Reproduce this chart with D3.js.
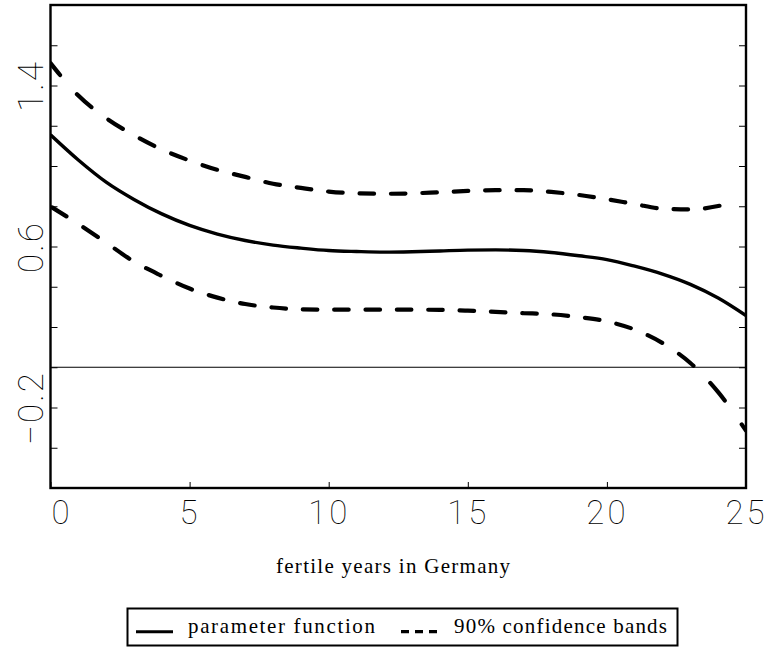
<!DOCTYPE html>
<html>
<head>
<meta charset="utf-8">
<script src="https://cdn.jsdelivr.net/npm/d3@7/dist/d3.min.js"></script>
<style>
  html, body { margin: 0; padding: 0; background: #fff; }
  svg { display: block; }
</style>
</head>
<body>
<svg id="chart" width="773" height="649"></svg>
<script>
// ---------------- data ----------------
const ages = [0,1,2,3,4,5,6,7,8,9,10,11,12,13,14,15,16,17,18,19,20,21,22,23,24,25];
const paramFn = [1.155,1.030,0.920,0.834,0.762,0.705,0.662,0.630,0.607,0.592,0.580,0.575,0.572,
                 0.574,0.578,0.582,0.583,0.580,0.570,0.554,0.535,0.502,0.463,0.412,0.344,0.257];
const upperAges = [0,1,2,3,4,5,6,7,8,9,10,11,12,13,14,15,16,17,18,19,20,21,22,23,24,24.6];
const upperBand = [1.511,1.350,1.238,1.153,1.082,1.027,0.981,0.946,0.912,0.891,0.873,0.864,0.862,
                   0.864,0.870,0.876,0.880,0.880,0.871,0.856,0.835,0.811,0.788,0.784,0.801,0.822];
const lowerBand = [0.799,0.712,0.619,0.525,0.454,0.391,0.346,0.314,0.297,0.288,0.286,0.286,0.286,
                   0.286,0.285,0.281,0.275,0.269,0.263,0.249,0.228,0.187,0.120,0.021,-0.124,-0.315];
const xTicks = [0,5,10,15,20,25];
const yTicks = [-0.4,-0.2,0,0.2,0.4,0.6,0.8,1.0,1.2,1.4,1.6];
const yLabels = [-0.2,0.6,1.4];
const xTitle = "fertile years in Germany";
const legendItems = ["parameter function","90% confidence bands"];

// ---------------- layout ----------------
const svg = d3.select("#chart");
const L = 50.5, R = 746, T = 5, B = 488;
const x = d3.scaleLinear().domain([0,25]).range([L,R]);
const y = d3.scaleLinear().domain([-0.6,1.8]).range([B,T]);
const numFont = "Roboto, Inter, 'DejaVu Sans', sans-serif";
const numWeight = 100;
const serif = "'Liberation Serif', 'DejaVu Serif', serif";

svg.append("defs").append("clipPath").attr("id","plotclip")
  .append("rect").attr("x",L).attr("y",T).attr("width",R-L).attr("height",B-T);

// zero line
svg.append("line").attr("x1",L).attr("x2",R).attr("y1",y(0)).attr("y2",y(0))
  .attr("stroke","#000").attr("stroke-width",1);

// axes
const fmt = d3.format(".1f");
const gL = svg.append("g").attr("transform",`translate(${L},0)`)
  .call(d3.axisLeft(y).tickValues(yTicks).tickSize(-7).tickPadding(0)
        .tickFormat(d => yLabels.some(v => Math.abs(v-d)<1e-9) ? fmt(d) : ""));
gL.selectAll(".tick text")
  .attr("x",0).attr("dy",0).attr("text-anchor","middle")
  .attr("transform","translate(-8,0) rotate(-90)")
  .attr("font-family",numFont).attr("font-weight",numWeight).attr("font-size",35)
  .attr("letter-spacing",2).attr("fill","#000");

const gR = svg.append("g").attr("transform",`translate(${R},0)`)
  .call(d3.axisRight(y).tickValues(yTicks).tickSize(-7).tickFormat(""));

const gB = svg.append("g").attr("transform",`translate(0,${B})`)
  .call(d3.axisBottom(x).tickValues(xTicks).tickSize(-6).tickFormat(d3.format("d")));
gB.selectAll(".tick text")
  .attr("y",36).attr("dy",0)
  .attr("dx", d => d===0 ? 11 : 0)
  .attr("font-family",numFont).attr("font-weight",numWeight).attr("font-size",33)
  .attr("letter-spacing",3).attr("fill","#000");

[gL,gR,gB].forEach(g => {
  g.select(".domain").remove();
  g.selectAll(".tick line").attr("stroke","#000").attr("stroke-width",1);
});

// frame
svg.append("rect").attr("x",L).attr("y",T).attr("width",R-L).attr("height",B-T)
  .attr("fill","none").attr("stroke","#000").attr("stroke-width",2.4);

// curves
const plot = svg.append("g").attr("clip-path","url(#plotclip)");
const line = d3.line().x(d => x(d[0])).y(d => y(d[1])).curve(d3.curveMonotoneX);

plot.append("path").datum(d3.zip(ages,paramFn)).attr("d",line)
  .attr("fill","none").attr("stroke","#000").attr("stroke-width",3.4);

// dashes laid out along x (as in the reference)
function xDash(pathSel, phase, period, dashLen) {
  const node = pathSel.node();
  const total = node.getTotalLength();
  const N = 3000, lens = [], xs = [];
  for (let i = 0; i <= N; i++) {
    const l = total*i/N; lens.push(l); xs.push(node.getPointAtLength(l).x);
  }
  const lenAt = xv => {
    if (xv <= xs[0]) return 0;
    if (xv >= xs[N]) return total;
    let i = d3.bisectLeft(xs, xv);
    const t = (xv - xs[i-1])/(xs[i]-xs[i-1] || 1);
    return lens[i-1] + t*(lens[i]-lens[i-1]);
  };
  const segs = [];
  for (let s = phase; s < xs[N]; s += period) {
    const a = lenAt(s), b = lenAt(s+dashLen);
    if (b - a > 0.5) segs.push([a,b]);
  }
  const arr = [];
  segs.forEach((sg,i) => {
    arr.push(sg[1]-sg[0]);
    arr.push(i < segs.length-1 ? segs[i+1][0]-sg[1] : total*3);
  });
  pathSel.attr("stroke-dasharray", arr.map(v => v.toFixed(2)).join(","))
         .attr("stroke-dashoffset", -segs[0][0]);
}

const up = plot.append("path").datum(d3.zip(upperAges,upperBand)).attr("d",line)
  .attr("fill","none").attr("stroke","#000").attr("stroke-width",4.2).attr("stroke-linecap","round");
xDash(up, 45.5, 31.4, 14.5);

const lo = plot.append("path").datum(d3.zip(ages,lowerBand)).attr("d",line)
  .attr("fill","none").attr("stroke","#000").attr("stroke-width",4.2).attr("stroke-linecap","round");
xDash(lo, 52, 31.35, 14.5);

// x title
svg.append("text").attr("x",276).attr("y",573).text(xTitle)
  .attr("font-family",serif).attr("font-size",21)
  .attr("textLength",234).attr("lengthAdjust","spacing").attr("fill","#000");

// legend
svg.append("rect").attr("x",127.5).attr("y",608.5).attr("width",550).attr("height",37)
  .attr("fill","none").attr("stroke","#000").attr("stroke-width",2);
svg.append("line").attr("x1",136).attr("x2",173).attr("y1",631.7).attr("y2",631.7)
  .attr("stroke","#000").attr("stroke-width",3);
svg.append("text").attr("x",188).attr("y",633).text(legendItems[0])
  .attr("font-family",serif).attr("font-size",21)
  .attr("textLength",187).attr("lengthAdjust","spacing").attr("fill","#000");
svg.append("line").attr("x1",401).attr("x2",437).attr("y1",631.7).attr("y2",631.7)
  .attr("stroke","#000").attr("stroke-width",3.3).attr("stroke-dasharray","8,6");
svg.append("text").attr("x",454).attr("y",633).text(legendItems[1])
  .attr("font-family",serif).attr("font-size",21)
  .attr("textLength",213).attr("lengthAdjust","spacing").attr("fill","#000");
</script>
</body>
</html>
